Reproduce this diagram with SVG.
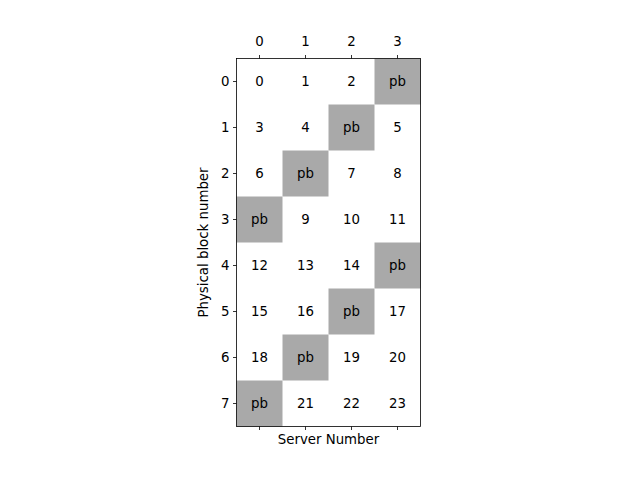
<svg xmlns="http://www.w3.org/2000/svg" width="640" height="480" viewBox="0 0 640 480">
<style>
text{font-family:"DejaVu Sans",sans-serif;font-size:13.33px;fill:#000}
.c{text-anchor:middle;dominant-baseline:central}
.pb{fill:#a9a9a9}
.t{stroke:#000;stroke-width:0.8}
.yl{text-anchor:end;dominant-baseline:central}
.xl{text-anchor:middle}
</style>
<rect width="640" height="480" fill="#fff"/>
<g id="cells">
<rect class="pb" x="374.5" y="58.5" width="46" height="46"/>
<rect class="pb" x="328.5" y="104.5" width="46" height="46"/>
<rect class="pb" x="282.5" y="150.5" width="46" height="46"/>
<rect class="pb" x="236.5" y="196.5" width="46" height="46"/>
<rect class="pb" x="374.5" y="242.5" width="46" height="46"/>
<rect class="pb" x="328.5" y="288.5" width="46" height="46"/>
<rect class="pb" x="282.5" y="334.5" width="46" height="46"/>
<rect class="pb" x="236.5" y="380.5" width="46" height="46"/>
</g>
<g id="values">
<text class="c" x="259.5" y="81.5">0</text><text class="c" x="305.5" y="81.5">1</text><text class="c" x="351.5" y="81.5">2</text><text class="c" x="397.5" y="81.5">pb</text>
<text class="c" x="259.5" y="127.5">3</text><text class="c" x="305.5" y="127.5">4</text><text class="c" x="351.5" y="127.5">pb</text><text class="c" x="397.5" y="127.5">5</text>
<text class="c" x="259.5" y="173.5">6</text><text class="c" x="305.5" y="173.5">pb</text><text class="c" x="351.5" y="173.5">7</text><text class="c" x="397.5" y="173.5">8</text>
<text class="c" x="259.5" y="219.5">pb</text><text class="c" x="305.5" y="219.5">9</text><text class="c" x="351.5" y="219.5">10</text><text class="c" x="397.5" y="219.5">11</text>
<text class="c" x="259.5" y="265.5">12</text><text class="c" x="305.5" y="265.5">13</text><text class="c" x="351.5" y="265.5">14</text><text class="c" x="397.5" y="265.5">pb</text>
<text class="c" x="259.5" y="311.5">15</text><text class="c" x="305.5" y="311.5">16</text><text class="c" x="351.5" y="311.5">pb</text><text class="c" x="397.5" y="311.5">17</text>
<text class="c" x="259.5" y="357.5">18</text><text class="c" x="305.5" y="357.5">pb</text><text class="c" x="351.5" y="357.5">19</text><text class="c" x="397.5" y="357.5">20</text>
<text class="c" x="259.5" y="403.5">pb</text><text class="c" x="305.5" y="403.5">21</text><text class="c" x="351.5" y="403.5">22</text><text class="c" x="397.5" y="403.5">23</text>
</g>
<g id="axes">
<rect x="236.5" y="58.5" width="184" height="368" fill="none" stroke="#000" stroke-width="0.8"/>
<path class="t" d="M259.5 58.5V55M305.5 58.5V55M351.5 58.5V55M397.5 58.5V55M259.5 426.5V430M305.5 426.5V430M351.5 426.5V430M397.5 426.5V430M236.5 81.5H233M236.5 127.5H233M236.5 173.5H233M236.5 219.5H233M236.5 265.5H233M236.5 311.5H233M236.5 357.5H233M236.5 403.5H233"/>
<text class="xl" x="259.5" y="45.5">0</text><text class="xl" x="305.5" y="45.5">1</text><text class="xl" x="351.5" y="45.5">2</text><text class="xl" x="397.5" y="45.5">3</text>
<text class="yl" x="229.5" y="81.5">0</text><text class="yl" x="229.5" y="127.5">1</text><text class="yl" x="229.5" y="173.5">2</text><text class="yl" x="229.5" y="219.5">3</text><text class="yl" x="229.5" y="265.5">4</text><text class="yl" x="229.5" y="311.5">5</text><text class="yl" x="229.5" y="357.5">6</text><text class="yl" x="229.5" y="403.5">7</text>
<text class="xl" x="328.5" y="444">Server Number</text>
<text class="xl" transform="translate(208 242.5) rotate(-90)">Physical block number</text>
</g>
</svg>
